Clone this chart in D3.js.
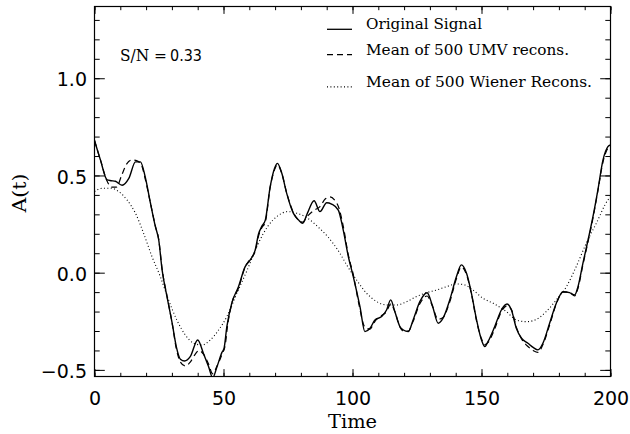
<!DOCTYPE html>
<html>
<head>
<meta charset="utf-8">
<script src="https://cdn.jsdelivr.net/npm/d3@7"></script>
<style>
  html, body { margin: 0; padding: 0; background: #fff; }
  svg { display: block; }
</style>
</head>
<body>
<svg id="chart" width="630" height="434"></svg>
<script>
// ---------- data ----------
const origT = [0,2.3,4.9,6.4,8.1,10.7,13.3,15.9,17.8,19.7,21.7,23.6,24.9,26.2,28.1,30.1,31.7,33.3,34.9,37.1,40,42.3,44.2,45.8,47.5,49.4,50.2,51.3,53.2,55.8,58.4,60.3,62.3,63.6,64.8,66.2,68.1,69.8,70.9,72.6,74.5,77.1,79.1,80.7,82.5,85.1,87.4,90,91.9,94.5,96.4,98.4,100.3,102.9,104.8,106.8,108.7,111.3,113.2,114.8,116.4,118.4,119.7,121.6,123.5,126.1,128.9,130.9,133.2,135.1,137.7,140.3,142.2,144.2,146.1,148.1,150,151.3,152.5,155.1,157.7,159.9,161.6,163.5,165.5,168,170,171.9,173.8,176.4,179,181.6,184.1,186.1,187.4,189.3,191.3,193.2,195.1,197.1,199,200];
const origA = [0.68,0.58,0.477,0.473,0.47,0.45,0.485,0.57,0.57,0.49,0.357,0.237,0.168,0.014,-0.123,-0.26,-0.38,-0.445,-0.454,-0.432,-0.346,-0.418,-0.483,-0.54,-0.483,-0.41,-0.39,-0.278,-0.157,-0.072,0.031,0.065,0.117,0.2,0.237,0.27,0.442,0.537,0.562,0.511,0.408,0.305,0.271,0.254,0.305,0.37,0.314,0.36,0.353,0.322,0.22,0.082,-0.02,-0.175,-0.303,-0.286,-0.243,-0.226,-0.192,-0.14,-0.2,-0.278,-0.295,-0.303,-0.243,-0.149,-0.103,-0.166,-0.26,-0.234,-0.14,-0.02,0.04,-0.003,-0.106,-0.243,-0.346,-0.38,-0.355,-0.278,-0.192,-0.161,-0.192,-0.286,-0.337,-0.363,-0.384,-0.397,-0.363,-0.26,-0.157,-0.098,-0.103,-0.115,-0.072,0.048,0.168,0.288,0.425,0.58,0.648,0.657];

const umvT = [0,2.3,4.9,6.6,8.5,10.5,12.5,14.5,16.5,18.3,19.7,21.7,23.6,24.9,26.2,28.1,30.1,31.7,33.3,35.2,37.1,39,40.5,42.3,44.2,45.8,47.5,49.4,50.7,51.5,53.2,55.8,58.4,60.3,62.3,63.6,64.8,66.2,68.1,69.8,70.9,72.6,74.5,77.1,79.1,80.7,82.5,85,87.4,89.5,91.3,93,94.8,96.4,98.4,100.3,102.6,104.8,106.8,108.7,111.3,113.2,114.8,116.4,118.4,119.7,121.6,123.5,126.1,128.9,130.9,133.2,135.1,137.7,140.3,142.2,144.2,146.1,148.1,150,151.3,152.5,155.1,157.7,159.9,161.6,163.5,165.5,168,170,171.9,173.8,176.4,179,181.6,184.1,186.1,187.4,189.3,191.3,193.2,195.1,197.1,199,200];
const umvA = [0.68,0.58,0.47,0.44,0.44,0.5,0.56,0.58,0.575,0.55,0.48,0.357,0.24,0.17,0.02,-0.12,-0.26,-0.39,-0.46,-0.48,-0.46,-0.42,-0.4,-0.42,-0.47,-0.52,-0.48,-0.42,-0.37,-0.28,-0.16,-0.08,0.03,0.07,0.11,0.19,0.23,0.26,0.44,0.53,0.555,0.51,0.41,0.31,0.27,0.26,0.29,0.32,0.34,0.38,0.39,0.375,0.33,0.24,0.09,-0.01,-0.17,-0.28,-0.29,-0.25,-0.22,-0.2,-0.16,-0.2,-0.28,-0.3,-0.3,-0.25,-0.16,-0.12,-0.17,-0.24,-0.23,-0.15,-0.03,0.03,-0.01,-0.11,-0.25,-0.34,-0.37,-0.36,-0.29,-0.2,-0.17,-0.19,-0.28,-0.34,-0.38,-0.4,-0.41,-0.37,-0.27,-0.16,-0.1,-0.1,-0.12,-0.08,0.04,0.16,0.28,0.42,0.57,0.64,0.65];

const wienT = [0,3,6.6,9.4,12.6,15.9,19.1,22.3,25.5,28.7,31.9,35.2,38.4,41.7,44.9,48.1,51.3,55.2,59.2,63.2,67.1,71,74.9,78.7,82.6,86.5,90.4,94.3,98.2,101.6,105.5,109.4,113.2,117.1,121,124.8,128.7,132.6,136.4,140.3,143.5,146.7,150.6,154.5,159.6,163.5,167.4,171.3,175.1,179,182.9,186.7,190.6,194.5,199,200];
const wienA = [0.417,0.434,0.434,0.417,0.374,0.305,0.2,0.082,-0.02,-0.14,-0.243,-0.32,-0.363,-0.372,-0.346,-0.295,-0.226,-0.106,0.014,0.142,0.237,0.292,0.314,0.305,0.28,0.237,0.185,0.117,0.03,-0.038,-0.106,-0.149,-0.166,-0.166,-0.149,-0.123,-0.103,-0.089,-0.072,-0.058,-0.063,-0.089,-0.132,-0.157,-0.2,-0.243,-0.252,-0.24,-0.2,-0.14,-0.072,0.031,0.151,0.254,0.374,0.39];

const xMajorTicks = [0, 50, 100, 150, 200];
const yMajorTicks = [-0.5, 0.0, 0.5, 1.0];
const seriesNames = ["Original Signal", "Mean of 500 UMV recons.", "Mean of 500 Wiener Recons."];
const snLabel = ["S/N =", "0.33"];
const xTitle = "Time";
const yTitle = "A(t)";

// ---------- layout ----------
const L = 94.5, R = 610.5, T = 6.5, B = 376.5;
const svg = d3.select("#chart");
const x = d3.scaleLinear().domain([0, 200]).range([L, R]);
const y = d3.scaleLinear().domain([-0.534, 1.369]).range([B, T]);

const xMinor = d3.range(0, 201, 10);
const yMinor = d3.range(-5, 14).map(v => +(v / 10).toFixed(1));

const numFont = "DejaVu Sans, sans-serif";
const serifFont = "DejaVu Serif, serif";

svg.append("defs").append("clipPath").attr("id", "clip")
  .append("rect").attr("x", L).attr("y", T).attr("width", R - L).attr("height", B - T);

function styleAxis(g) {
  g.selectAll("path").remove();
  g.selectAll("line").attr("stroke", "#000").attr("stroke-width", 1);
}

// minor ticks
svg.append("g").attr("transform", `translate(0,${B})`)
  .call(d3.axisTop(x).tickValues(xMinor).tickSize(3.7).tickFormat("")).call(styleAxis);
svg.append("g").attr("transform", `translate(0,${T})`)
  .call(d3.axisBottom(x).tickValues(xMinor).tickSize(3.7).tickFormat("")).call(styleAxis);
svg.append("g").attr("transform", `translate(${L},0)`)
  .call(d3.axisRight(y).tickValues(yMinor).tickSize(5.2).tickFormat("")).call(styleAxis);
svg.append("g").attr("transform", `translate(${R},0)`)
  .call(d3.axisLeft(y).tickValues(yMinor).tickSize(5.2).tickFormat("")).call(styleAxis);

// major ticks
svg.append("g").attr("transform", `translate(0,${B})`)
  .call(d3.axisTop(x).tickValues(xMajorTicks).tickSize(7.4).tickFormat("")).call(styleAxis);
svg.append("g").attr("transform", `translate(0,${T})`)
  .call(d3.axisBottom(x).tickValues(xMajorTicks).tickSize(7.4).tickFormat("")).call(styleAxis);
svg.append("g").attr("transform", `translate(${L},0)`)
  .call(d3.axisRight(y).tickValues(yMajorTicks).tickSize(10.3).tickFormat("")).call(styleAxis);
svg.append("g").attr("transform", `translate(${R},0)`)
  .call(d3.axisLeft(y).tickValues(yMajorTicks).tickSize(10.3).tickFormat("")).call(styleAxis);

// tick labels via axes
const xLab = svg.append("g").attr("transform", `translate(0,${B})`)
  .call(d3.axisBottom(x).tickValues(xMajorTicks).tickSize(0).tickPadding(15).tickFormat(d3.format("d")));
xLab.select(".domain").remove();
xLab.selectAll("text").attr("font-family", numFont).attr("font-size", 19).attr("fill", "#000").attr("dy", "0.72em");

const yLab = svg.append("g").attr("transform", `translate(${L},0)`)
  .call(d3.axisLeft(y).tickValues(yMajorTicks).tickSize(0).tickPadding(7.5).tickFormat(d3.format(".1f")));
yLab.select(".domain").remove();
yLab.selectAll("text").attr("font-family", numFont).attr("font-size", 19).attr("fill", "#000").attr("dy", "0.4em");

// frame
svg.append("rect").attr("x", L).attr("y", T).attr("width", R - L).attr("height", B - T)
  .attr("fill", "none").attr("stroke", "#000").attr("stroke-width", 1.2);

// curves
const line = d3.line().x(d => x(d[0])).y(d => y(d[1])).curve(d3.curveMonotoneX);
const plot = svg.append("g").attr("clip-path", "url(#clip)");
plot.append("path").datum(wienT.map((t, i) => [t, wienA[i]]))
  .attr("d", line).attr("fill", "none").attr("stroke", "#000").attr("stroke-width", 1.1)
  .attr("stroke-dasharray", "1,2.4");
plot.append("path").datum(umvT.map((t, i) => [t, umvA[i]]))
  .attr("d", line).attr("fill", "none").attr("stroke", "#000").attr("stroke-width", 1.2)
  .attr("stroke-dasharray", "6,4");
plot.append("path").datum(origT.map((t, i) => [t, origA[i]]))
  .attr("d", line).attr("fill", "none").attr("stroke", "#000").attr("stroke-width", 1.4);

// legend
const legY = [29.3, 54.6, 86.9];
const legDash = [null, "6,4", "1,2.4"];
const legW = [116, 203, 226];
seriesNames.forEach((name, i) => {
  const ln = svg.append("line").attr("x1", 327).attr("x2", 352).attr("y1", legY[i]).attr("y2", legY[i])
    .attr("stroke", "#000").attr("stroke-width", i === 0 ? 1.3 : 1.1);
  if (legDash[i]) ln.attr("stroke-dasharray", legDash[i]);
  svg.append("text").attr("x", 366).attr("y", legY[i]).attr("font-family", serifFont)
    .attr("font-size", 15).attr("fill", "#000")
    .attr("textLength", legW[i]).attr("lengthAdjust", "spacingAndGlyphs").text(name);
});

// S/N annotation
svg.append("text").attr("x", 120).attr("y", 61).attr("font-family", serifFont).attr("font-size", 16.5)
  .attr("textLength", 47).attr("lengthAdjust", "spacingAndGlyphs").text(snLabel[0]);
svg.append("text").attr("x", 170).attr("y", 61).attr("font-family", numFont).attr("font-size", 16.5)
  .attr("textLength", 32).attr("lengthAdjust", "spacingAndGlyphs").text(snLabel[1]);

// axis titles
svg.append("text").attr("x", (L + R) / 2).attr("y", 428).attr("text-anchor", "middle")
  .attr("font-family", serifFont).attr("font-size", 18).attr("fill", "#000")
  .attr("textLength", 49).attr("lengthAdjust", "spacingAndGlyphs").text(xTitle);
svg.append("text").attr("transform", "translate(26,193) rotate(-90)").attr("text-anchor", "middle")
  .attr("font-family", serifFont).attr("font-size", 19).attr("fill", "#000")
  .attr("textLength", 39).attr("lengthAdjust", "spacingAndGlyphs").text(yTitle);
</script>
</body>
</html>
